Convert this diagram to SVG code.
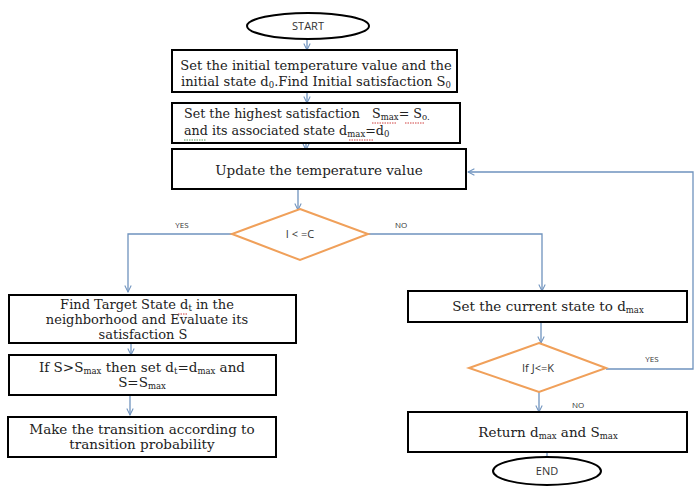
<svg xmlns="http://www.w3.org/2000/svg" width="695" height="488" viewBox="0 0 695 488">
<defs>
<marker id="arr" viewBox="0 0 10 10" refX="9" refY="5" markerWidth="8" markerHeight="8" orient="auto" markerUnits="userSpaceOnUse">
<path d="M1,1 L9,5 L1,9" fill="none" stroke="#6f93be" stroke-width="1.3"/>
</marker>
<style>
.box{fill:#fff;stroke:#000;stroke-width:2}
.dia{fill:#fff;stroke:#f0a05a;stroke-width:2}
.term{fill:#fff;stroke:#000;stroke-width:2}
.con{fill:none;stroke:#6f93be;stroke-width:1.3}
.t{font-family:"DejaVu Serif","Liberation Serif",serif;font-size:13.5px;fill:#222}
.s{font-family:"Open Sans","Liberation Sans",sans-serif;font-size:11px;fill:#333}
.lbl{font-family:"Open Sans","Liberation Sans",sans-serif;font-size:8px;fill:#333}
.sub{font-size:8.5px}
.sq{fill:none;stroke:#d04040;stroke-width:1;stroke-dasharray:1.5 1}
.sqg{fill:none;stroke:#5a9a5a;stroke-width:1;stroke-dasharray:1.5 1}
</style>
</defs>
<rect width="695" height="488" fill="#fff"/>
<g id="connectors">
<path class="con" d="M307,39 V50" marker-end="url(#arr)"/>
<path class="con" d="M307,92 V103" marker-end="url(#arr)"/>
<path class="con" d="M306,143 V150" marker-end="url(#arr)"/>
<path class="con" d="M298,189 V210" marker-end="url(#arr)"/>
<path class="con" d="M232,234 H128 V292" marker-end="url(#arr)"/>
<path class="con" d="M368,234 H542 V291" marker-end="url(#arr)"/>
<path class="con" d="M131,343 V355" marker-end="url(#arr)"/>
<path class="con" d="M130,395 V415" marker-end="url(#arr)"/>
<path class="con" d="M541,322 V343" marker-end="url(#arr)"/>
<path class="con" d="M539,392 V412" marker-end="url(#arr)"/>
<path class="con" d="M547,452 V468" marker-end="url(#arr)"/>
<path class="con" d="M606,369 H693 V172 H468" marker-end="url(#arr)"/>
<text class="lbl" x="182" y="228" text-anchor="middle">YES</text>
<text class="lbl" x="401" y="228" text-anchor="middle">NO</text>
<text class="lbl" x="652" y="362" text-anchor="middle">YES</text>
<text class="lbl" x="578" y="408" text-anchor="middle">NO</text>
</g>
<g id="start">
<ellipse class="term" cx="308" cy="26" rx="61" ry="13"/>
<text class="s" x="308" y="30" text-anchor="middle">START</text>
</g>
<g id="init">
<rect class="box" x="172" y="50" width="285" height="42"/>
<text class="t" x="316" y="70" text-anchor="middle" style="font-size:13.1px">Set the initial temperature value and the</text>
<text class="t" x="316" y="86" text-anchor="middle" style="font-size:13.1px">initial state d<tspan class="sub" dy="2">0</tspan><tspan dy="-2">.Find Initial satisfaction S</tspan><tspan class="sub" dy="2">0</tspan></text>
</g>
<g id="highest">
<rect class="box" x="172" y="103" width="288" height="40"/>
<text class="t" x="184" y="118" style="font-size:12.7px">Set the highest satisfaction<tspan x="372">S</tspan><tspan class="sub" dy="2">max</tspan><tspan dy="-2">= S</tspan><tspan class="sub" dy="2">o.</tspan></text>
<text class="t" x="184" y="135" style="font-size:12.7px">and its associated state d<tspan class="sub" dy="2">max</tspan><tspan dy="-2">=d</tspan><tspan class="sub" dy="2">0</tspan></text>
<path class="sq" d="M372,123 H396 M405,123 H424"/>
<path class="sqg" d="M184,140 H206"/>
<path class="sq" d="M349,140 H373"/>
</g>
<g id="update">
<rect class="box" x="172" y="149" width="294" height="40"/>
<text class="t" x="319" y="175" text-anchor="middle">Update the temperature value</text>
</g>
<g id="cond1">
<polygon class="dia" points="300,209 368,234 300,260 232,234"/>
<text class="s" x="300" y="238" text-anchor="middle">I &lt; =C</text>
</g>
<g id="target">
<rect class="box" x="9" y="295" width="287" height="48"/>
<text class="t" x="147" y="309" text-anchor="middle" style="font-size:13px">Find Target State d<tspan class="sub" dy="2">t</tspan><tspan dy="-2"> in the</tspan></text>
<text class="t" x="147" y="324" text-anchor="middle" style="font-size:13px">neighborhood and Evaluate its</text>
<text class="t" x="143" y="339" text-anchor="middle" style="font-size:13px">satisfaction S</text>
<path class="sq" d="M178,314 H188"/>
</g>
<g id="ifs">
<rect class="box" x="9" y="355" width="267" height="40"/>
<text class="t" x="142" y="372" text-anchor="middle">If S&gt;S<tspan class="sub" dy="2">max</tspan><tspan dy="-2"> then set d</tspan><tspan class="sub" dy="2">t</tspan><tspan dy="-2">=d</tspan><tspan class="sub" dy="2">max</tspan><tspan dy="-2"> and</tspan></text>
<text class="t" x="142" y="387" text-anchor="middle">S=S<tspan class="sub" dy="2">max</tspan></text>
</g>
<g id="transition">
<rect class="box" x="8" y="417" width="268" height="40"/>
<text class="t" x="142" y="434" text-anchor="middle">Make the transition according to</text>
<text class="t" x="142" y="449" text-anchor="middle">transition probability</text>
</g>
<g id="current">
<rect class="box" x="408" y="291" width="279" height="31"/>
<text class="t" x="548" y="311" text-anchor="middle">Set the current state to d<tspan class="sub" dy="2">max</tspan></text>
</g>
<g id="cond2">
<polygon class="dia" points="539,343 606,368 539,392 469,368"/>
<text class="s" x="538" y="372" text-anchor="middle">If J&lt;=K</text>
</g>
<g id="return">
<rect class="box" x="408" y="412" width="279" height="40"/>
<text class="t" x="548" y="437" text-anchor="middle">Return d<tspan class="sub" dy="2">max</tspan><tspan dy="-2"> and S</tspan><tspan class="sub" dy="2">max</tspan></text>
</g>
<g id="end">
<ellipse class="term" cx="547" cy="471" rx="54" ry="14"/>
<text class="s" x="547" y="475" text-anchor="middle" font-size="12">END</text>
</g>
</svg>
